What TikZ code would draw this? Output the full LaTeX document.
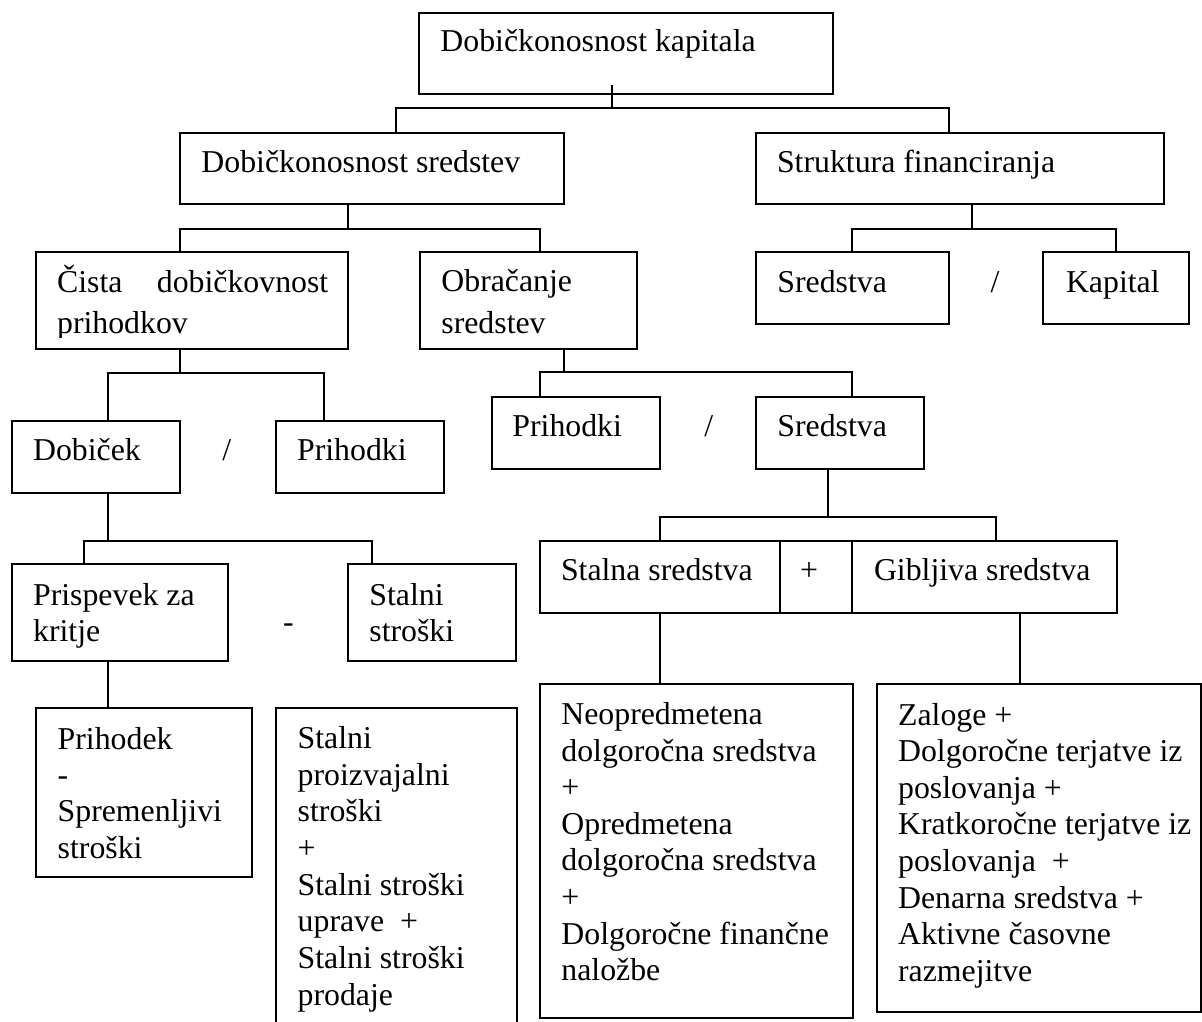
\documentclass[tikz,border=0pt]{standalone}
\usepackage{fontspec}
\setmainfont{Liberation Serif}
% rectangle node given by its corners: name, x1, y1, x2, y2 (pixel grid, y downward)
\newcommand\boxnode[5]{\node[box, anchor=north west,
  minimum width={(#4-#2)*0.5pt}, minimum height={(#5-#3)*0.5pt}] (#1) at (#2,#3) {};}
\begin{document}
\begin{tikzpicture}[x=0.5pt,y=-0.5pt,
  box/.style={draw, line width=1pt, inner sep=0pt, outer sep=0pt},
  conn/.style={line width=0.9pt},
  lbl/.style={anchor=base west, inner sep=0pt, font=\fontsize{15.9}{18.3}\selectfont},
  ml/.style={lbl, align=flush left, text width=170pt, font=\fontsize{15.9}{#1}\selectfont},
  op/.style={anchor=base, inner sep=0pt, font=\fontsize{15.9}{18.3}\selectfont}]
\path[use as bounding box] (0,0) rectangle (1202,1021);
\clip (0,0) rectangle (1202,1021);
\fill[white] (0,0) rectangle (1202,1021);

% ---- boxes ----
\boxnode{top}{419}{12.7}{832.7}{94}
\boxnode{sred}{180}{132.7}{564.3}{204.3}
\boxnode{struk}{755.7}{132.7}{1164}{204.3}
\boxnode{cista}{35.7}{252.3}{348.3}{349}
\boxnode{obr}{420}{252.3}{636.7}{349}
\boxnode{sredR}{755.7}{252.3}{948.6}{324.3}
\boxnode{kap}{1043}{252.3}{1188.5}{324.3}
\boxnode{dob}{11.7}{420.7}{180.3}{492.7}
\boxnode{prihL}{276}{420.7}{444.3}{492.7}
\boxnode{prihM}{491.5}{396.7}{660}{468.7}
\boxnode{sredM}{755.8}{396.7}{924.3}{468.7}
\boxnode{prisp}{12}{564.3}{228.3}{660.7}
\boxnode{stal}{347.7}{564.3}{516.3}{660.7}
\boxnode{stalna}{540}{540.7}{780}{612.7}
\boxnode{plus}{780}{540.7}{852}{612.7}
\boxnode{gib}{852}{540.7}{1116.7}{612.7}
\boxnode{prihod}{35.7}{708.3}{252.3}{876.7}
\boxnode{stalk}{276}{708.3}{516.7}{1040}
\boxnode{neo}{540}{684}{852.7}{1018.3}
\boxnode{zal}{877.3}{684}{1201}{1011.7}

% ---- connectors ----
\coordinate (t0) at (612.3,85);
\coordinate (a1) at (395.7,108);  \coordinate (a2) at (948.6,108);
\draw[conn] (t0) -- (t0 |- a1);
\draw[conn] (sred.north -| a1) -- (a1) -- (a2) -- (struk.north -| a2);

\coordinate (b0) at (348,228.7); \coordinate (b1) at (180,228.7); \coordinate (b2) at (540,228.7);
\draw[conn] (sred.south -| b0) -- (b0);
\draw[conn] (cista.north -| b1) -- (b1) -- (b2) -- (obr.north -| b2);

\coordinate (c0) at (971.6,228.7); \coordinate (c1) at (852,228.7); \coordinate (c2) at (1116,228.7);
\draw[conn] (struk.south -| c0) -- (c0);
\draw[conn] (sredR.north -| c1) -- (c1) -- (c2) -- (kap.north -| c2);

\coordinate (d0) at (180,372.7); \coordinate (d1) at (107.7,372.7); \coordinate (d2) at (324,372.7);
\draw[conn] (cista.south -| d0) -- (d0);
\draw[conn] (dob.north -| d1) -- (d1) -- (d2) -- (prihL.north -| d2);

\coordinate (e0) at (563.8,372); \coordinate (e1) at (539.9,372); \coordinate (e2) at (852,372);
\draw[conn] (obr.south -| e0) -- (e0);
\draw[conn] (prihM.north -| e1) -- (e1) -- (e2) -- (sredM.north -| e2);

\coordinate (f0) at (107.7,540.7); \coordinate (f1) at (84,540.7); \coordinate (f2) at (372,540.7);
\draw[conn] (dob.south -| f0) -- (f0);
\draw[conn] (prisp.north -| f1) -- (f1) -- (f2) -- (stal.north -| f2);

\coordinate (g0) at (828,516.7); \coordinate (g1) at (660,516.7); \coordinate (g2) at (996,516.7);
\draw[conn] (sredM.south -| g0) -- (g0);
\draw[conn] (stalna.north -| g1) -- (g1) -- (g2) -- (gib.north -| g2);

\coordinate (gx) at (1020,650);
\draw[conn] (prisp.south -| f0) -- (prihod.north -| f0);
\draw[conn] (stalna.south -| g1) -- (neo.north -| g1);
\draw[conn] (gib.south -| gx) -- (zal.north -| gx);

% ---- texts ----
\node[lbl] (top-t) at (440,52) {Dobičkonosnost kapitala};
\node[lbl] (sred-t) at (201,173) {Dobičkonosnost sredstev};
\node[lbl] (struk-t) at (776.6,172.7) {Struktura financiranja};
\begin{scope}
  \clip (35,250) rectangle (349,337.3);
  \node[ml=20.6pt] (cista-t) at (56.7,292.7)
    {\hbox to 135.6pt{Čista\hfill dobičkovnost}\\prihodkov};
\end{scope}
\node[ml=20.8pt] (obr-t) at (441,291.7) {Obračanje\\sredstev};
\node[lbl] (sredR-t) at (777,292.7) {Sredstva};
\node[op] (divR) at (995,292.7) {/};
\node[lbl] (kap-t) at (1065.6,292.7) {Kapital};
\node[lbl] (dob-t) at (32.7,460) {Dobiček};
\node[op] (divL) at (226.7,460) {/};
\node[lbl] (prihL-t) at (296.7,460) {Prihodki};
\node[lbl] (prihM-t) at (512,436.7) {Prihodki};
\node[op] (divM) at (708.8,436.7) {/};
\node[lbl] (sredM-t) at (777,436.7) {Sredstva};
\node[ml=18pt] (prisp-t) at (32.7,605) {Prispevek za\\kritje};
\node[op] (minus) at (288.3,632) {-};
\node[ml=18pt] (stal-t) at (369,605) {Stalni\\stroški};
\node[lbl] (stalna-t) at (560.6,580.7) {Stalna sredstva};
\node[op] (plus-t) at (809,580.7) {+};
\node[lbl] (gib-t) at (873.6,580.7) {Gibljiva sredstva};
\node[ml=18.15pt] (prihod-t) at (57.3,749.3) {Prihodek\\-\\Spremenljivi\\stroški};
\node[ml=18.35pt] (stalk-t) at (297.3,748.3)
  {Stalni\\proizvajalni\\stroški\\+\\Stalni stroški\\uprave\ \ +\\Stalni stroški\\prodaje};
\node[ml=18.3pt] (neo-t) at (561,724.5)
  {Neopredmetena\\dolgoročna sredstva\\+\\Opredmetena\\dolgoročna sredstva\\+\\Dolgoročne finančne\\naložbe};
\node[ml=18.3pt] (zal-t) at (897.7,725)
  {Zaloge +\\Dolgoročne terjatve iz\\poslovanja +\\Kratkoročne terjatve iz\\poslovanja\ \ +\\Denarna sredstva +\\Aktivne časovne\\razmejitve};
\end{tikzpicture}
\end{document}
